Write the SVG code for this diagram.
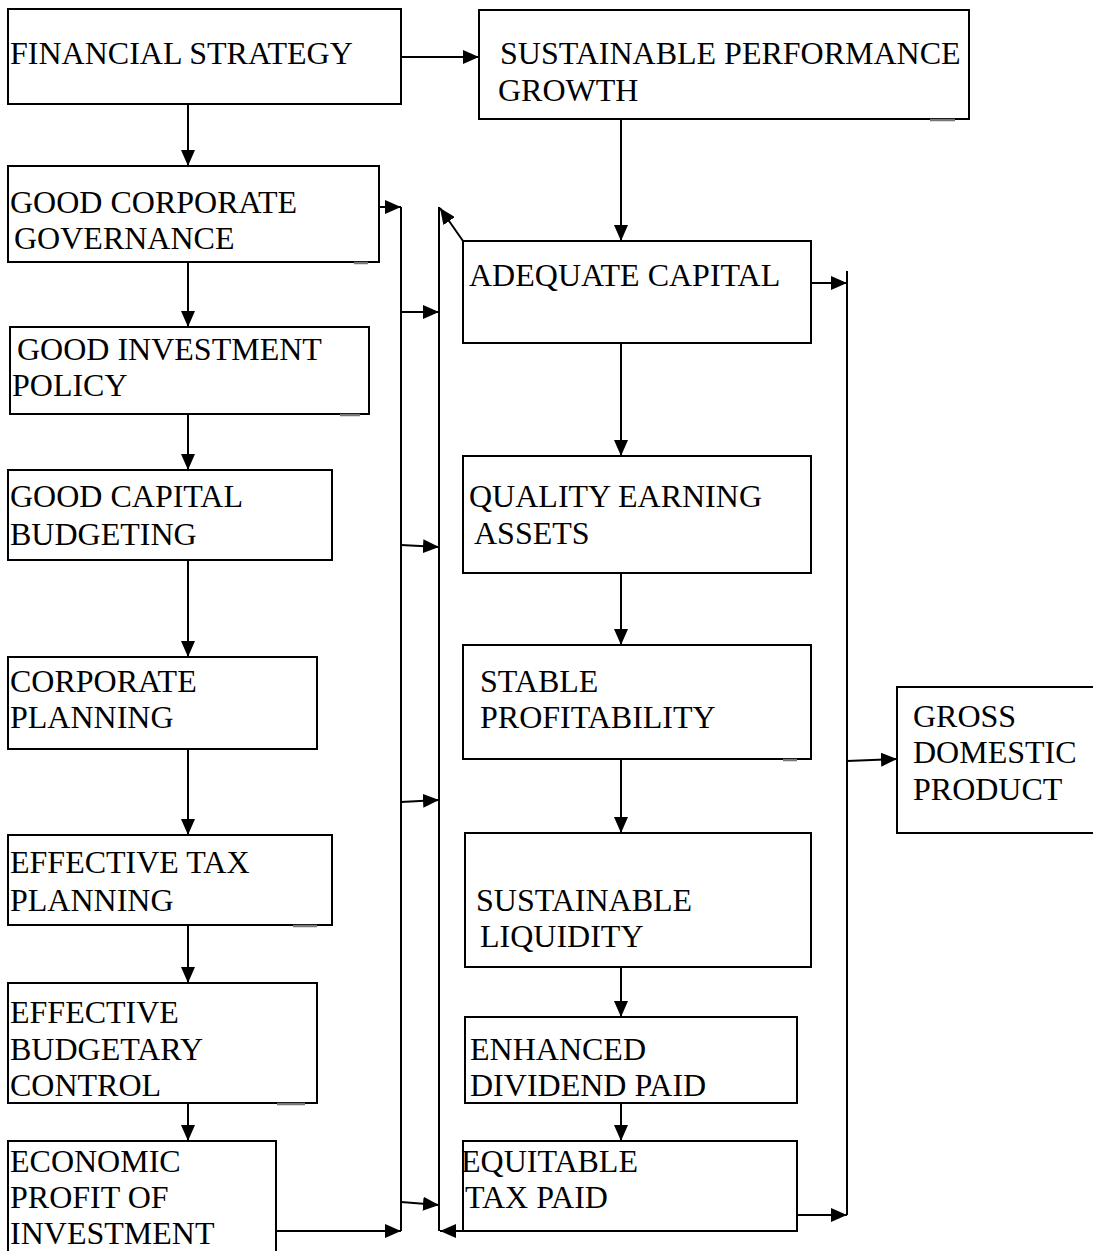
<svg xmlns="http://www.w3.org/2000/svg" width="1093" height="1251" viewBox="0 0 1093 1251">
<defs>
<marker id="ah" markerWidth="16" markerHeight="14" refX="16" refY="7" orient="auto" markerUnits="userSpaceOnUse">
<path d="M0,0 L16,7 L0,14 z" fill="#000"/>
</marker>
<style>
.box{fill:#fff;stroke:#000;stroke-width:2}
.t{font-family:"Liberation Serif","Times New Roman",serif;font-size:32px;fill:#000}
.c{stroke:#000;stroke-width:2;fill:none}
.a{stroke:#000;stroke-width:2;fill:none;marker-end:url(#ah)}
.tick{stroke:#777;stroke-width:2.5}
</style>
</defs>
<rect width="1093" height="1251" fill="#fff"/>
<g id="connectors">
<line class="a" x1="401" y1="57" x2="479" y2="57"/>
<line class="a" x1="188" y1="104" x2="188" y2="166"/>
<line class="a" x1="188" y1="262" x2="188" y2="327"/>
<line class="a" x1="188" y1="414" x2="188" y2="470"/>
<line class="a" x1="188" y1="560" x2="188" y2="657"/>
<line class="a" x1="188" y1="749" x2="188" y2="835"/>
<line class="a" x1="188" y1="925" x2="188" y2="983"/>
<line class="a" x1="188" y1="1103" x2="188" y2="1141"/>
<line class="a" x1="379" y1="207" x2="401" y2="207"/>
<line class="c" x1="401" y1="207" x2="401" y2="1231"/>
<line class="a" x1="276" y1="1231" x2="401" y2="1231"/>
<line class="a" x1="401" y1="312" x2="439" y2="312"/>
<line class="a" x1="401" y1="545" x2="439" y2="547"/>
<line class="a" x1="401" y1="802" x2="439" y2="800"/>
<line class="a" x1="401" y1="1202" x2="439" y2="1205"/>
<line class="c" x1="439" y1="207" x2="439" y2="1231"/>
<line class="a" x1="463" y1="241" x2="440" y2="208"/>
<line class="a" x1="463" y1="1231" x2="440" y2="1231"/>
<line class="a" x1="621" y1="119" x2="621" y2="241"/>
<line class="a" x1="621" y1="343" x2="621" y2="456"/>
<line class="a" x1="621" y1="573" x2="621" y2="645"/>
<line class="a" x1="621" y1="759" x2="621" y2="833"/>
<line class="a" x1="621" y1="967" x2="621" y2="1017"/>
<line class="a" x1="621" y1="1103" x2="621" y2="1141"/>
<line class="a" x1="811" y1="283" x2="847" y2="283"/>
<line class="c" x1="847" y1="271" x2="847" y2="1215"/>
<line class="a" x1="797" y1="1215" x2="847" y2="1215"/>
<line class="a" x1="847" y1="761" x2="897" y2="759"/>
</g>
<g id="financial-strategy">
<rect class="box" x="8" y="9" width="393" height="95"/>
<text class="t" x="10" y="64">FINANCIAL STRATEGY</text>
</g>
<g id="sustainable-performance-growth">
<rect class="box" x="479" y="10" width="490" height="109"/>
<line class="tick" x1="930" y1="120" x2="955" y2="120"/>
<text class="t" x="500" y="64">SUSTAINABLE PERFORMANCE</text>
<text class="t" x="498" y="101">GROWTH</text>
</g>
<g id="good-corporate-governance">
<rect class="box" x="8" y="166" width="371" height="96"/>
<line class="tick" x1="354" y1="263" x2="368" y2="263"/>
<text class="t" x="10" y="213">GOOD CORPORATE</text>
<text class="t" x="14" y="249">GOVERNANCE</text>
</g>
<g id="good-investment-policy">
<rect class="box" x="10" y="327" width="359" height="87"/>
<line class="tick" x1="340" y1="415" x2="360" y2="415"/>
<text class="t" x="17" y="360">GOOD INVESTMENT</text>
<text class="t" x="12" y="396">POLICY</text>
</g>
<g id="good-capital-budgeting">
<rect class="box" x="8" y="470" width="324" height="90"/>
<text class="t" x="10" y="507">GOOD CAPITAL</text>
<text class="t" x="10" y="545">BUDGETING</text>
</g>
<g id="corporate-planning">
<rect class="box" x="8" y="657" width="309" height="92"/>
<text class="t" x="10" y="692">CORPORATE</text>
<text class="t" x="10" y="728">PLANNING</text>
</g>
<g id="effective-tax-planning">
<rect class="box" x="8" y="835" width="324" height="90"/>
<line class="tick" x1="293" y1="926" x2="317" y2="926"/>
<text class="t" x="10" y="873">EFFECTIVE TAX</text>
<text class="t" x="10" y="911">PLANNING</text>
</g>
<g id="effective-budgetary-control">
<rect class="box" x="8" y="983" width="309" height="120"/>
<line class="tick" x1="277" y1="1104" x2="305" y2="1104"/>
<text class="t" x="10" y="1023">EFFECTIVE</text>
<text class="t" x="10" y="1060">BUDGETARY</text>
<text class="t" x="10" y="1096">CONTROL</text>
</g>
<g id="economic-profit-of-investment">
<rect class="box" x="8" y="1141" width="268" height="120"/>
<text class="t" x="10" y="1172">ECONOMIC</text>
<text class="t" x="10" y="1208">PROFIT OF</text>
<text class="t" x="10" y="1244">INVESTMENT</text>
</g>
<g id="adequate-capital">
<rect class="box" x="463" y="241" width="348" height="102"/>
<text class="t" x="469" y="286">ADEQUATE CAPITAL</text>
</g>
<g id="quality-earning-assets">
<rect class="box" x="463" y="456" width="348" height="117"/>
<text class="t" x="469" y="507">QUALITY EARNING</text>
<text class="t" x="474" y="544">ASSETS</text>
</g>
<g id="stable-profitability">
<rect class="box" x="463" y="645" width="348" height="114"/>
<line class="tick" x1="783" y1="760" x2="797" y2="760"/>
<text class="t" x="480" y="692">STABLE</text>
<text class="t" x="480" y="728">PROFITABILITY</text>
</g>
<g id="sustainable-liquidity">
<rect class="box" x="465" y="833" width="346" height="134"/>
<text class="t" x="476" y="911">SUSTAINABLE</text>
<text class="t" x="480" y="947">LIQUIDITY</text>
</g>
<g id="enhanced-dividend-paid">
<rect class="box" x="465" y="1017" width="332" height="86"/>
<text class="t" x="470" y="1060">ENHANCED</text>
<text class="t" x="470" y="1096">DIVIDEND PAID</text>
</g>
<g id="equitable-tax-paid">
<rect class="box" x="463" y="1141" width="334" height="90"/>
<text class="t" x="461" y="1172">EQUITABLE</text>
<text class="t" x="465" y="1208">TAX PAID</text>
</g>
<g id="gross-domestic-product">
<rect class="box" x="897" y="687" width="200" height="146"/>
<text class="t" x="913" y="727">GROSS</text>
<text class="t" x="913" y="763">DOMESTIC</text>
<text class="t" x="913" y="800">PRODUCT</text>
</g>
</svg>
